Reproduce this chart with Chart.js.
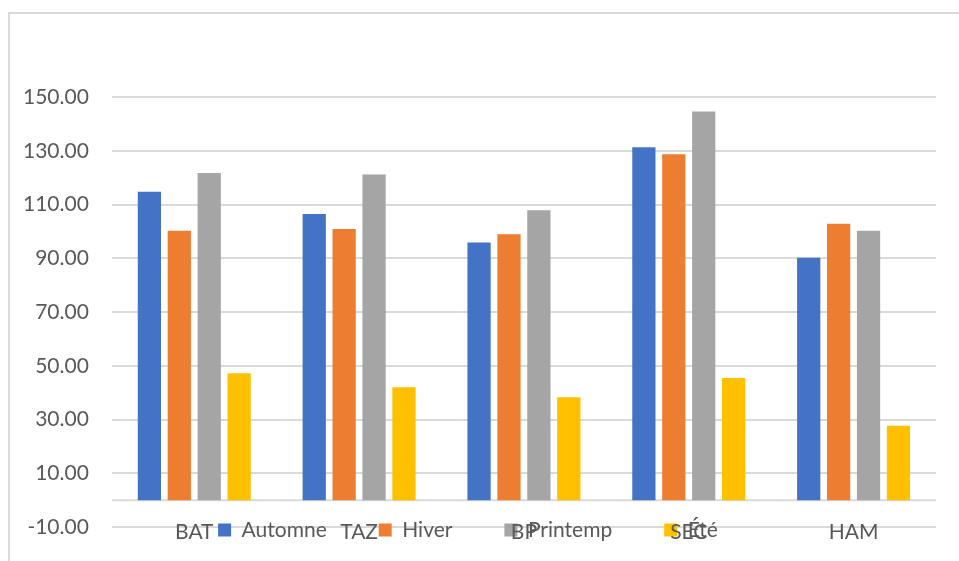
<!DOCTYPE html>
<html>
<head>
<meta charset="utf-8">
<script src="https://cdn.jsdelivr.net/npm/chart.js@4.4.1/dist/chart.umd.min.js"></script>
<style>
  html, body { margin: 0; padding: 0; background: #fff; }
  #wrap { position: relative; width: 959px; height: 561px; overflow: hidden; }
  #frame { position: absolute; left: 8px; top: 12px; width: 1000px; height: 600px;
           border-left: 2px solid #d9d9d9; border-top: 2px solid #d9d9d9; }
  canvas { position: absolute; left: 0; top: 0; }
</style>
</head>
<body>
<div id="wrap">
  <div id="frame"></div>
  <canvas id="barChart" width="959" height="561"></canvas>
</div>
<script>
// values
const categories = ['BAT', 'TAZ', 'BP', 'SEC', 'HAM'];
const automne  = [114.7, 106.5, 95.9, 131.3, 90.2];
const hiver    = [100.2, 100.9, 98.9, 128.7, 102.8];
const printemp = [121.7, 121.2, 107.9, 144.6, 100.2];
const ete      = [47.2, 42.0, 38.3, 45.4, 27.7];
const seriesNames = ['Automne', 'Hiver', 'Printemp', 'Été'];
const seriesColors = ['#4472c4', '#ed7d31', '#a5a5a5', '#ffc000'];
const yMin = -10, yMax = 150, yStep = 20;

const textColor = '#595959';
const gridColor = '#d9d9d9';
const font = { family: 'Lato', size: 21 };

let seriesValues = [automne, hiver, printemp, ete];

// Excel puts the category axis line at 0
const zeroLine = {
    id: 'zeroLine',
    beforeDatasetsDraw(chart) {
        const { ctx, chartArea, scales } = chart;
        const y = scales.y.getPixelForValue(0);
        ctx.save();
        ctx.strokeStyle = gridColor;
        ctx.lineWidth = 2;
        ctx.beginPath();
        ctx.moveTo(chartArea.left, y);
        ctx.lineTo(chartArea.right, y);
        ctx.stroke();
        ctx.restore();
    }
};

// category labels and legend share one line, just under the -10 gridline
const legendOnAxis = {
    id: 'legendOnAxis',
    afterLayout(chart) {
        const bottom = chart.chartArea.bottom;
        // let the x labels poke up over the plot edge without being clipped
        chart.scales.x.top = bottom - 12;
        const lg = chart.legend;
        const pad = lg.options.labels.padding;
        const h = lg.height;
        lg.top = bottom + 3 - pad - font.size / 2;
        lg.bottom = lg.top + h;
    }
};

let ctx = document.getElementById('barChart').getContext('2d');
let barChart = new Chart(ctx, {
    type: 'bar',
    data: {
        labels: categories,
        datasets: seriesNames.map((name, i) => ({
            label: name,
            data: seriesValues[i],
            backgroundColor: seriesColors[i],
            borderWidth: 0,
            barPercentage: 0.777,
            categoryPercentage: 0.726
        }))
    },
    options: {
        responsive: false,
        animation: false,
        layout: { padding: { left: 0, right: 23, top: 14, bottom: 0 } },
        plugins: {
            tooltip: { enabled: false },
            legend: {
                position: 'top',
                labels: {
                    font: font,
                    color: textColor,
                    boxWidth: 13,
                    boxHeight: 13,
                    padding: 52
                }
            }
        },
        scales: {
            x: {
                grid: { display: false, drawTicks: false },
                border: { display: false },
                ticks: { font: font, color: textColor, padding: 5 },
                afterFit: scale => { scale.height = 34; }
            },
            y: {
                min: yMin,
                max: yMax,
                grid: { color: gridColor, lineWidth: 2, drawTicks: false },
                border: { display: false },
                ticks: {
                    stepSize: yStep,
                    // small lineHeight so the last label does not push the plot up
                    font: { family: font.family, size: font.size, lineHeight: 0.5 },
                    color: textColor,
                    padding: 23,
                    callback: v => v.toFixed(2)
                }
            }
        }
    },
    plugins: [zeroLine, legendOnAxis]
});
</script>
</body>
</html>
